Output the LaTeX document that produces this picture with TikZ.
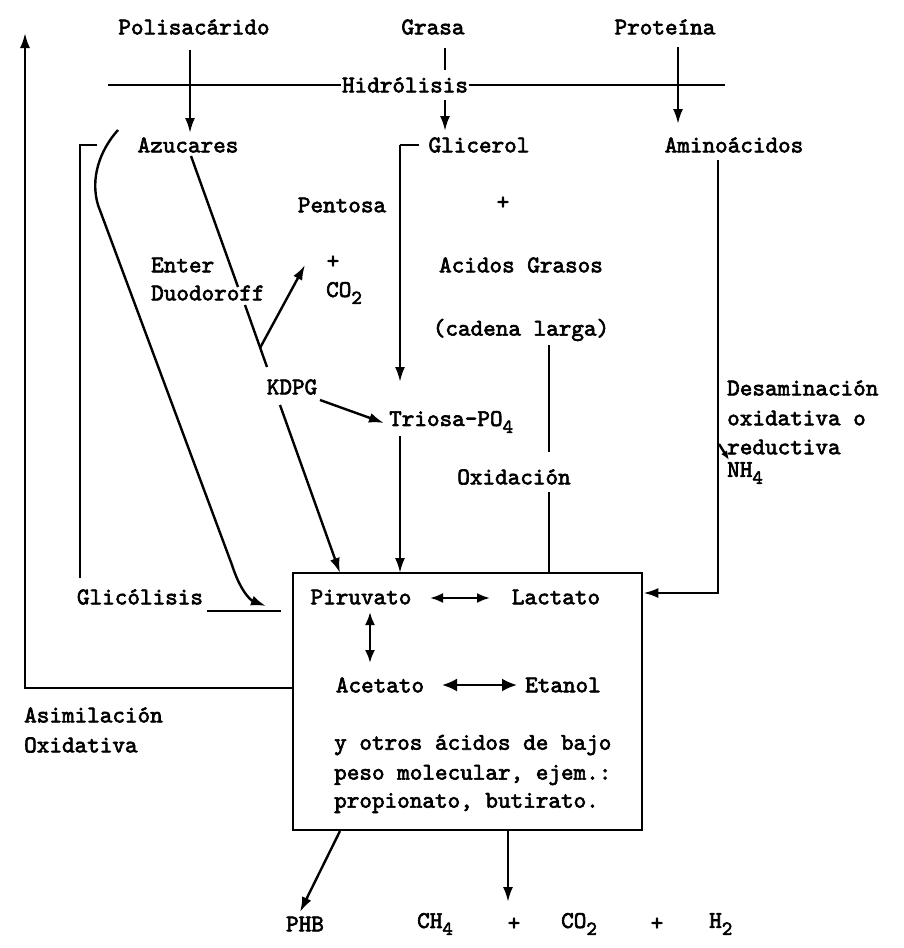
\documentclass[tikz,border=0pt]{standalone}
\usepackage{fontspec}
\newfontfamily\twf{lmmono10-regular.otf}[FakeBold=2.6]
\usetikzlibrary{arrows.meta}
\newcommand{\sbx}[1]{\raisebox{-7pt}{\fontsize{20}{20}\selectfont #1}}
\begin{document}
\begin{tikzpicture}[x=1pt,y=-1pt,
  txt/.style={inner sep=1pt,font=\twf\fontsize{24}{26}\selectfont},
  lft/.style={txt,anchor=west},
  ln/.style={line width=2.4pt},
  arr/.style={ln,-{Latex[length=15pt,width=10pt]}},
  arrb/.style={ln,{Latex[length=13pt,width=10pt]}-{Latex[length=13pt,width=10pt]}},
  boxst/.style={draw,line width=2.6pt,minimum width=349pt,minimum height=257pt,inner sep=0pt}]
\useasboundingbox (0,0) rectangle (903,948);
% text nodes
\node[txt] (pol) at (194,27) {Polisac\'arido};
\node[txt] (gra) at (433,27) {Grasa};
\node[txt] (pro) at (665,27) {Prote\'ina};
\node[txt] (hid) at (405,85) {Hidr\'olisis};
\node[txt] (azu) at (188,145) {Azucares};
\node[txt] (gli) at (479,145) {Glicerol};
\node[txt] (ami) at (734,145) {Amino\'acidos};
\node[txt] (pen) at (342,205) {Pentosa};
\node[txt] (pl1) at (503,203) {+};
\node[txt] (acg) at (521,265) {Acidos Grasos};
\node[txt] (cad) at (521,330) {(cadena larga)};
\node[lft] (ent) at (150,265) {Enter};
\node[lft] (duo) at (150,293) {Duodoroff};
\node[txt] (pl2) at (333,262) {+};
\node[lft] (co2) at (325,293) {CO\sbx{2}};
\node[txt] (kdpg) at (292,387) {KDPG};
\node[lft] (tri) at (388,422) {Triosa-PO\sbx{4}};
\node[txt] (oxi) at (514,477) {Oxidaci\'on};
\node[lft] (des1) at (726,388) {Desaminaci\'on};
\node[lft] (des2) at (726,418) {oxidativa o};
\node[lft] (des3) at (726,447) {reductiva};
\node[lft] (nh4) at (726,473) {NH\sbx{4}};
\node[boxst] (box) at (467.5,701.5) {};
\node[txt] (pir) at (361,597) {Piruvato};
\node[txt] (lac) at (556,597) {Lactato};
\node[txt] (ace) at (380,685) {Acetato};
\node[txt] (eta) at (563,685) {Etanol};
\node[lft] (ot1) at (333,745) {y otros \'acidos de bajo};
\node[lft] (ot2) at (333,775) {peso molecular, ejem.:};
\node[lft] (ot3) at (333,803) {propionato, butirato.};
\node[txt] (glc) at (140,597) {Glic\'olisis};
\node[lft] (asi1) at (23,715) {Asimilaci\'on};
\node[lft] (asi2) at (23,745) {Oxidativa};
\node[txt] (phb) at (305,924) {PHB};
\node[lft] (ch4) at (416,924) {CH\sbx{4}};
\node[txt] (pl3) at (514,924) {+};
\node[lft] (co2b) at (560,924) {CO\sbx{2}};
\node[txt] (pl4) at (657,924) {+};
\node[lft] (h2) at (708,924) {H\sbx{2}};
% coordinates
\coordinate (hl) at (108,85);
\coordinate (hr) at (725,85);
\coordinate (g1) at (118,130);
\coordinate (g2) at (98,205);
\coordinate (g3) at (232,565);
\coordinate (g4) at (266,606);
\coordinate (a2) at (238,287);
\coordinate (a3) at (245,305);
\coordinate (br) at (260,348);
\coordinate (co2tip) at (305,265);
\coordinate (dn) at (729,460);
\coordinate (c1) at (549,345);
\coordinate (c2) at (549,452);
\coordinate (c3) at (549,492);
\coordinate (asitop) at (25,33);
% Hidrolisis line
\draw[ln] (hl) -- (hid.west);
\draw[ln] (hid.east) -- (hr);
% inputs
\draw[arr] (190,50) -- (190,133);
\draw[ln] (445,48) -- (445,70);
\draw[arr] (445,100) -- (445,131);
\draw[arr] (678,47) -- (678,124);
% glycolysis bracket
\draw[ln] (97,145) -- (80,145) -- (80,578);
\draw[ln] (207,611) -- (281,611);
\draw[arr] (g1) .. controls (100,150) and (90,178) .. (g2) -- (g3) .. controls (240,590) and (250,600) .. (g4);
% glicerol bracket
\draw[ln] (419,145) -- (400,145);
\draw[arr] (400,145) -- (400,382);
% Entner-Doudoroff
\draw[ln] (191,156) -- (a2);
\draw[ln] (a3) -- (267,367);
\draw[arr] (br) -- (co2tip);
\draw[arr] (280,405) -- (340,573);
\draw[arr] (320,400) -- (384,423);
\draw[arr] (400,436) -- (400,573);
% oxidacion
\draw[ln] (c1) -- (c2);
\draw[ln] (c3) -- (549,573);
% aminoacidos
\draw[arr] (718,160) -- (718,593) -- (box.east |- 0,593);
\draw[ln,-{Latex[length=9pt,width=7pt]}] (719,444) -- (dn);
% box internals
\draw[arrb] (430,598) -- (490,598);
\draw[arrb] (370,612) -- (370,663);
\draw[ln,{Latex[length=15pt,width=13pt]}-{Latex[length=15pt,width=13pt]}] (442,685) -- (517,685);
% asimilacion
\draw[arr] (box.west |- 0,688) -- (25,688) -- (asitop);
% outputs
\draw[arr] (340,831) -- (300,912);
\draw[arr] (508,831) -- (508,902);
\end{tikzpicture}
\end{document}
